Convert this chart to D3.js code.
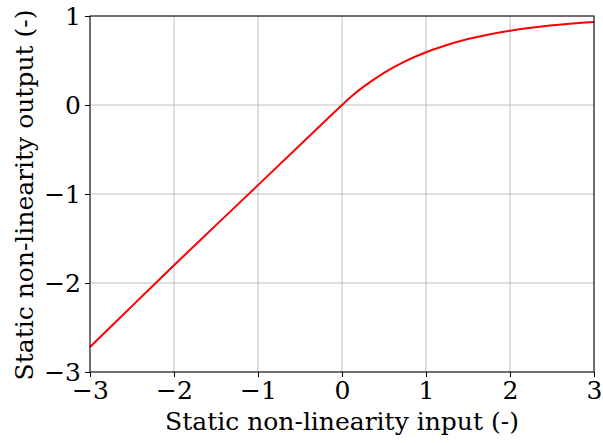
<!DOCTYPE html>
<html><head><meta charset="utf-8">
<script src="https://cdn.jsdelivr.net/npm/d3@7"></script>
<style>body{margin:0;background:#fff}svg{display:block}</style>
</head><body>
<script>
const xVals = [-3, -2.5, -2, -1.5, -1, -0.5, 0, 0.1, 0.25, 0.5, 0.75, 1, 1.25, 1.5, 1.75, 2, 2.25, 2.5, 2.75, 3];
const yVals = [-2.72, -2.26, -1.8, -1.35, -0.9, -0.45, 0, 0.086, 0.201, 0.362, 0.491, 0.593, 0.675, 0.741, 0.793, 0.835, 0.868, 0.895, 0.916, 0.933];
const xTicks = [-3, -2, -1, 0, 1, 2, 3];
const yTicks = [-3, -2, -1, 0, 1];
const xLabel = "Static non-linearity input (-)";
const yLabel = "Static non-linearity output (-)";

const W = 603, H = 443;
const m = {l: 90, r: 9, t: 16, b: 71};
const svg = d3.select("body").append("svg").attr("width", W).attr("height", H);
const x = d3.scaleLinear().domain([-3, 3]).range([m.l, W - m.r]);
const y = d3.scaleLinear().domain([-3, 1]).range([H - m.b, m.t]);
const font = "DejaVu Serif";
const fs = 25;
const fmt = d => (d < 0 ? "\u2212" + Math.abs(d) : String(d));

const g = svg.append("g");
g.selectAll(".gx").data(xTicks).enter().append("line")
  .attr("x1", d => x(d)).attr("x2", d => x(d)).attr("y1", m.t).attr("y2", H - m.b)
  .attr("stroke", "#b0b0b0").attr("stroke-width", 0.8);
g.selectAll(".gy").data(yTicks).enter().append("line")
  .attr("y1", d => y(d)).attr("y2", d => y(d)).attr("x1", m.l).attr("x2", W - m.r)
  .attr("stroke", "#b0b0b0").attr("stroke-width", 0.8);

const data = xVals.map((v, i) => [v, yVals[i]]);
svg.append("path").datum(data)
  .attr("d", d3.line().x(d => x(d[0])).y(d => y(d[1])).curve(d3.curveCatmullRom))
  .attr("fill", "none").attr("stroke", "#ff0000").attr("stroke-width", 2);

const xAxis = svg.append("g").attr("transform", `translate(0,${H - m.b})`)
  .call(d3.axisBottom(x).tickValues(xTicks).tickFormat(fmt).tickSizeOuter(0).tickSize(5).tickPadding(4));
const yAxis = svg.append("g").attr("transform", `translate(${m.l},0)`)
  .call(d3.axisLeft(y).tickValues(yTicks).tickFormat(fmt).tickSizeOuter(0).tickSize(5).tickPadding(4));
[xAxis, yAxis].forEach(a => {
  a.selectAll("text").attr("font-family", font).attr("font-size", fs).attr("fill", "#000");
  a.selectAll("line").attr("stroke", "#000").attr("stroke-width", 1);
  a.select(".domain").remove();
});
svg.append("rect").attr("x", m.l).attr("y", m.t).attr("width", W - m.r - m.l).attr("height", H - m.b - m.t)
  .attr("fill", "none").attr("stroke", "#000").attr("stroke-width", 1);

svg.append("text").attr("x", (m.l + W - m.r) / 2).attr("y", 430)
  .attr("text-anchor", "middle").attr("font-family", font).attr("font-size", fs).text(xLabel);
svg.append("text").attr("transform", `translate(33,195) rotate(-90)`)
  .attr("text-anchor", "middle").attr("font-family", font).attr("font-size", fs).text(yLabel);
</script>
</body></html>
